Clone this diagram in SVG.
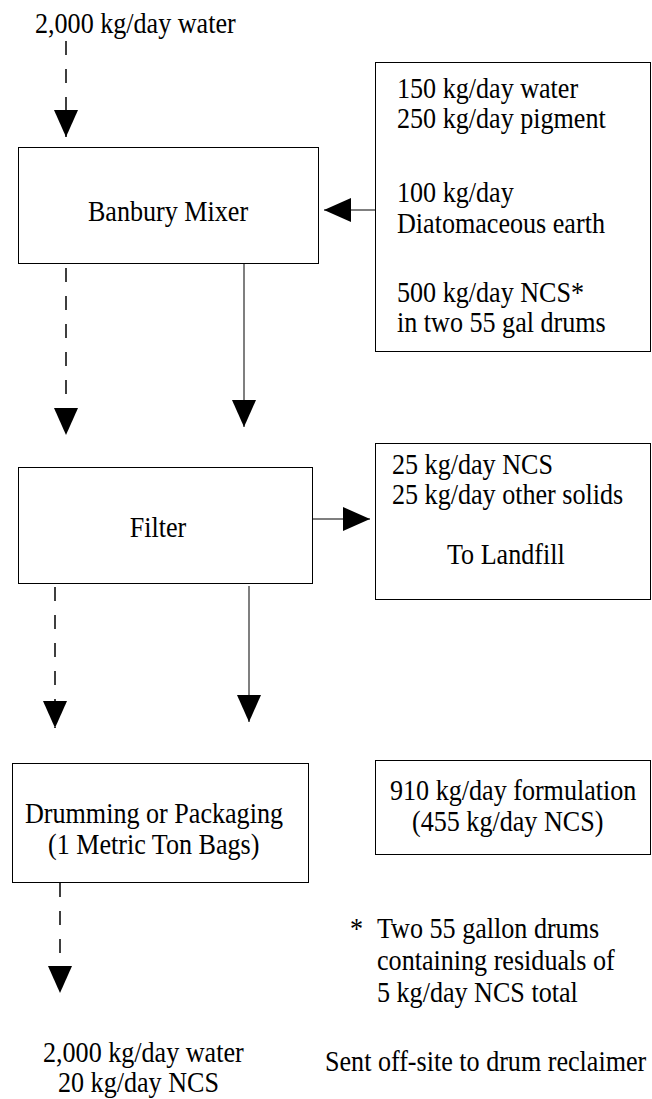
<svg xmlns="http://www.w3.org/2000/svg" width="652" height="1099" viewBox="0 0 652 1099">
<style>
.box{fill:#fff;stroke:#000;stroke-width:1}
.t{font-family:"Liberation Serif","Times New Roman",serif;font-size:30px;fill:#000}
.m{text-anchor:middle}
.solid{fill:none;stroke:#555;stroke-width:1.5}
.dash{fill:none;stroke:#000;stroke-width:1.5;stroke-dasharray:14 14}
</style>
<defs>
<marker id="ah" markerUnits="userSpaceOnUse" markerWidth="27" markerHeight="24" viewBox="0 0 27 24" refX="27" refY="12" orient="auto">
<path d="M0,0 L27,12 L0,24 Z" fill="#000"/>
</marker>
</defs>
<rect width="652" height="1099" fill="#fff"/>
<g id="src-water">
<text class="t" transform="translate(35 33) scale(0.87 1)">2,000 kg/day water</text>
</g>
<g id="banbury">
<rect class="box" x="18.5" y="147.5" width="300" height="116"/>
<text class="t m" transform="translate(168 221) scale(0.87 1)">Banbury Mixer</text>
</g>
<g id="inputs">
<rect class="box" x="375.5" y="62.5" width="275" height="289"/>
<text class="t" transform="translate(397 98) scale(0.87 1)">150 kg/day water</text>
<text class="t" transform="translate(397 128) scale(0.87 1)">250 kg/day pigment</text>
<text class="t" transform="translate(397 202) scale(0.87 1)">100 kg/day</text>
<text class="t" transform="translate(397 233) scale(0.87 1)">Diatomaceous earth</text>
<text class="t" transform="translate(397 302) scale(0.87 1)">500 kg/day NCS*</text>
<text class="t" transform="translate(397 332) scale(0.87 1)">in two 55 gal drums</text>
</g>
<g id="filter">
<rect class="box" x="18.5" y="467.5" width="294" height="116"/>
<text class="t m" transform="translate(158 537) scale(0.87 1)">Filter</text>
</g>
<g id="landfill">
<rect class="box" x="375.5" y="443.5" width="275" height="156"/>
<text class="t" transform="translate(392 474) scale(0.87 1)">25 kg/day NCS</text>
<text class="t" transform="translate(392 504) scale(0.87 1)">25 kg/day other solids</text>
<text class="t" transform="translate(447 564) scale(0.87 1)">To Landfill</text>
</g>
<g id="drumming">
<rect class="box" x="12.5" y="763.5" width="296" height="119"/>
<text class="t" transform="translate(25 823) scale(0.87 1)">Drumming or Packaging</text>
<text class="t" transform="translate(48 854) scale(0.87 1)">(1 Metric Ton Bags)</text>
</g>
<g id="formulation">
<rect class="box" x="375.5" y="760.5" width="275" height="94"/>
<text class="t" transform="translate(390 800) scale(0.87 1)">910 kg/day formulation</text>
<text class="t" transform="translate(412 831) scale(0.87 1)">(455 kg/day NCS)</text>
</g>
<g id="note">
<text class="t" transform="translate(350 938) scale(0.87 1)">*</text>
<text class="t" transform="translate(377 938) scale(0.87 1)">Two 55 gallon drums</text>
<text class="t" transform="translate(377 970) scale(0.87 1)">containing residuals of</text>
<text class="t" transform="translate(377 1002) scale(0.87 1)">5 kg/day NCS total</text>
<text class="t" transform="translate(325 1071) scale(0.87 1)">Sent off-site to drum reclaimer</text>
</g>
<g id="output">
<text class="t" transform="translate(43 1062) scale(0.87 1)">2,000 kg/day water</text>
<text class="t" transform="translate(58 1092) scale(0.87 1)">20 kg/day NCS</text>
</g>
<g id="connectors">
<path class="dash" d="M66,41 L66,137" marker-end="url(#ah)"/>
<path class="solid" d="M375,210 L324,210" marker-end="url(#ah)"/>
<path class="dash" d="M66,268 L66,435" marker-end="url(#ah)"/>
<path class="solid" d="M244,264 L244,427" marker-end="url(#ah)"/>
<path class="solid" d="M313,519 L370,519" marker-end="url(#ah)"/>
<path class="dash" d="M55,587 L55,728" marker-end="url(#ah)"/>
<path class="solid" d="M249,586 L249,722" marker-end="url(#ah)"/>
<path class="dash" d="M60,883 L60,993" marker-end="url(#ah)"/>
</g>
</svg>
